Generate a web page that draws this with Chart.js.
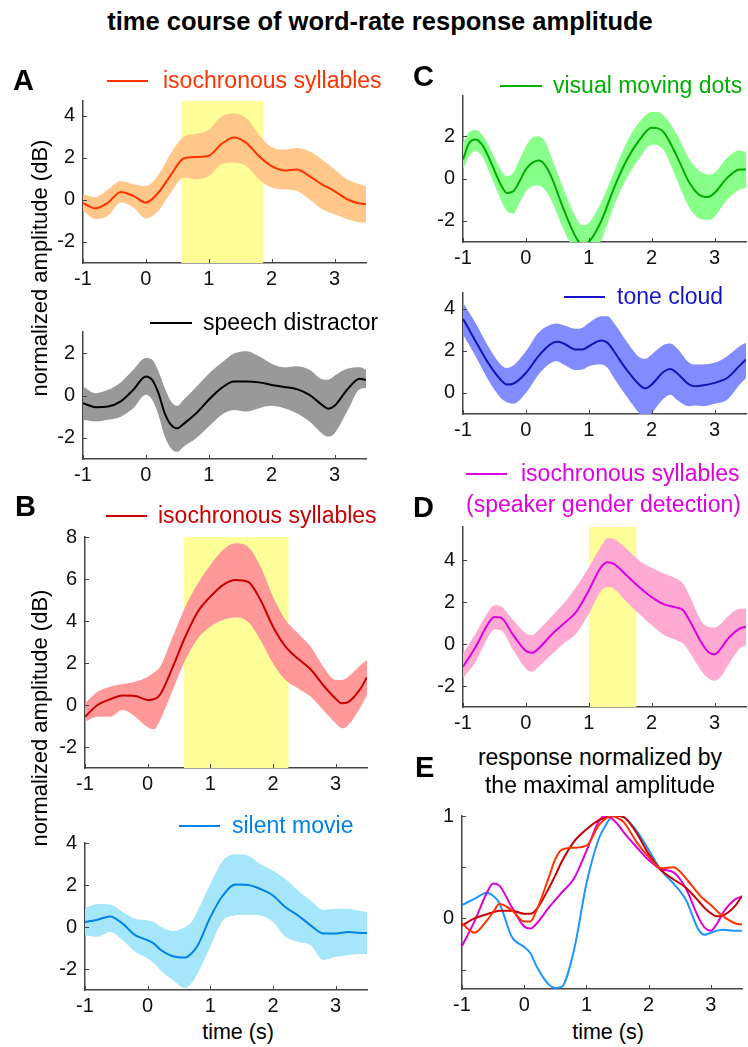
<!DOCTYPE html>
<html>
<head>
<meta charset="utf-8">
<script src="https://cdn.jsdelivr.net/npm/chart.js@4.4.1/dist/chart.umd.min.js"></script>
<style>
  html, body { margin: 0; padding: 0; background: #fff; overflow: hidden; }
  body { width: 748px; height: 1047px; position: relative; font-family: "Liberation Sans", Arial, sans-serif; }
  canvas { position: absolute; }
  .txt { position: absolute; line-height: 1; white-space: nowrap; }
  .leg-line { position: absolute; height: 2.5px; }
</style>
</head>
<body>
<script>
// tick values shared by all panels
const xTicks = [-1, 0, 1, 2, 3];

// A - isochronous syllables
const tA1 = [-1, -0.8, -0.6, -0.4, -0.2, 0, 0.2, 0.4, 0.6, 0.8, 1.0, 1.2, 1.4, 1.6, 1.8, 2.0, 2.2, 2.4, 2.6, 2.8, 3.0, 3.2, 3.4, 3.5];
const meanA1 = [-0.16, -0.4, -0.13, 0.38, 0.19, -0.13, 0.35, 1.2, 1.97, 2.04, 2.1, 2.65, 2.97, 2.7, 2.07, 1.6, 1.4, 1.45, 1.13, 0.74, 0.42, 0.03, -0.17, -0.2];
const upperA1 = [0.27, 0.14, 0.5, 0.9, 0.74, 0.66, 1.2, 2.23, 3.0, 3.14, 3.33, 3.96, 4.1, 3.88, 3.1, 2.5, 2.39, 2.47, 2.31, 1.92, 1.45, 0.97, 0.74, 0.66];
const lowerA1 = [-0.52, -0.91, -0.75, -0.13, -0.36, -0.88, -0.52, 0.35, 1.05, 0.97, 1.13, 1.68, 1.76, 1.6, 0.97, 0.58, 0.5, 0.42, 0.03, -0.44, -0.68, -0.91, -1.07, -1.07];
const hlA1 = [0.56, 1.87];
const yTicksA1 = [-2, 0, 2, 4];

// A - speech distractor
const tA2 = [-1, -0.8, -0.6, -0.4, -0.2, 0, 0.1, 0.2, 0.3, 0.4, 0.5, 0.6, 0.8, 1.0, 1.2, 1.4, 1.6, 1.8, 2.0, 2.2, 2.4, 2.6, 2.8, 2.9, 3.0, 3.2, 3.4, 3.5];
const meanA2 = [-0.36, -0.55, -0.52, -0.28, 0.27, 0.9, 0.74, 0.11, -0.84, -1.39, -1.55, -1.34, -0.84, -0.2, 0.35, 0.66, 0.66, 0.62, 0.5, 0.4, 0.3, 0.03, -0.44, -0.63, -0.49, 0.27, 0.79, 0.74];
const upperA2 = [0.43, 0.11, 0.27, 0.62, 1.22, 1.77, 1.69, 1.14, 0.35, -0.28, -0.49, -0.2, 0.4, 1.03, 1.53, 1.98, 2.09, 1.85, 1.5, 1.33, 1.38, 1.22, 0.77, 0.74, 0.93, 1.26, 1.33, 1.22];
const lowerA2 = [-1.15, -1.23, -1.15, -1.0, -0.6, 0.03, -0.2, -0.92, -1.94, -2.5, -2.66, -2.42, -2.02, -1.47, -0.92, -0.68, -0.76, -0.6, -0.49, -0.6, -0.84, -1.23, -1.79, -1.94, -1.79, -0.76, 0.3, 0.35];
const yTicksA2 = [-2, 0, 2];

// B - isochronous syllables
const tB1 = [-1, -0.8, -0.6, -0.4, -0.2, 0, 0.1, 0.2, 0.4, 0.6, 0.8, 1.0, 1.2, 1.4, 1.6, 1.8, 2.0, 2.2, 2.4, 2.6, 2.8, 3.0, 3.1, 3.2, 3.4, 3.5];
const meanB1 = [-0.56, 0, 0.27, 0.45, 0.43, 0.24, 0.27, 0.5, 1.8, 3.25, 4.44, 5.16, 5.71, 5.95, 5.87, 5.0, 3.73, 2.78, 2.2, 1.7, 0.95, 0.3, 0.08, 0.14, 0.79, 1.32];
const upperB1 = [0.08, 0.63, 0.87, 1.0, 1.11, 1.35, 1.55, 1.83, 3.25, 4.68, 5.79, 6.67, 7.38, 7.7, 7.54, 6.59, 5.16, 4.05, 3.41, 2.78, 1.83, 1.19, 1.19, 1.35, 1.9, 2.14];
const lowerB1 = [-0.79, -0.56, -0.56, -0.24, -0.56, -1.06, -1.16, -0.71, 0.71, 2.14, 3.17, 3.73, 4.05, 4.17, 3.97, 3.1, 1.98, 1.19, 0.79, 0.4, -0.24, -0.87, -1.11, -0.95, -0.08, 0.48];
const hlB1 = [0.58, 2.25];
const yTicksB1 = [-2, 0, 2, 4, 6, 8];

// B - silent movie
const tB2 = [-1, -0.8, -0.6, -0.4, -0.2, 0, 0.1, 0.2, 0.4, 0.6, 0.7, 0.8, 1.0, 1.2, 1.4, 1.6, 1.8, 2.0, 2.2, 2.4, 2.6, 2.8, 3.0, 3.2, 3.4, 3.5];
const meanB2 = [0.24, 0.35, 0.5, 0.16, -0.39, -0.63, -0.79, -1.07, -1.39, -1.45, -1.26, -0.87, 0.47, 1.5, 2.02, 2.0, 1.81, 1.5, 0.94, 0.55, 0.08, -0.31, -0.31, -0.24, -0.28, -0.28];
const upperB2 = [0.91, 1.1, 1.07, 0.71, 0.39, 0.31, 0.24, 0.03, -0.19, 0, 0.24, 0.79, 2.05, 3.15, 3.46, 3.39, 2.99, 2.68, 2.28, 1.73, 1.26, 0.82, 0.87, 0.87, 0.76, 0.71];
const lowerB2 = [-0.39, -0.47, -0.24, -0.63, -1.18, -1.5, -1.73, -2.05, -2.52, -2.91, -2.68, -2.2, -0.94, 0.31, 0.55, 0.58, 0.55, 0.24, -0.47, -0.71, -0.87, -1.57, -1.42, -1.34, -1.29, -1.29];
const yTicksB2 = [-2, 0, 2, 4];

// C - visual moving dots
const tC1 = [-1, -0.9, -0.8, -0.7, -0.6, -0.4, -0.3, -0.2, -0.1, 0, 0.1, 0.2, 0.3, 0.4, 0.6, 0.8, 0.9, 1.0, 1.2, 1.4, 1.6, 1.8, 2.0, 2.1, 2.2, 2.4, 2.6, 2.8, 2.9, 3.0, 3.2, 3.4, 3.5];
const meanC1 = [0.9, 1.69, 1.85, 1.61, 1.06, -0.28, -0.68, -0.6, -0.13, 0.43, 0.74, 0.85, 0.66, 0.11, -1.45, -2.8, -3.15, -3.0, -2.0, -0.45, 0.85, 1.8, 2.4, 2.37, 2.16, 1.06, -0.2, -0.84, -0.87, -0.68, 0.03, 0.43, 0.43];
const upperC1 = [1.69, 2.2, 2.29, 2.09, 1.61, 0.43, 0.11, 0.27, 0.9, 1.53, 1.93, 2.0, 1.77, 1.06, -0.5, -1.85, -2.2, -2.1, -1.1, 0.3, 1.7, 2.65, 3.14, 3.14, 2.95, 2.09, 0.9, 0.27, 0.19, 0.27, 0.98, 1.34, 1.22];
const lowerC1 = [0.43, 1.06, 1.3, 1.06, 0.43, -1.0, -1.55, -1.66, -1.15, -0.6, -0.36, -0.33, -0.52, -1.0, -2.42, -3.6, -4.0, -3.9, -2.9, -1.31, 0.0, 0.95, 1.6, 1.56, 1.3, -0.05, -1.39, -1.94, -1.97, -1.79, -1.0, -0.52, -0.44];
const yTicksC1 = [-2, 0, 2];

// C - tone cloud
const tC2 = [-1, -0.8, -0.6, -0.4, -0.3, -0.2, 0, 0.2, 0.4, 0.5, 0.6, 0.8, 0.9, 1.0, 1.2, 1.3, 1.4, 1.6, 1.8, 1.9, 2.0, 2.2, 2.3, 2.4, 2.6, 2.7, 2.8, 3.0, 3.2, 3.4, 3.5];
const meanC2 = [3.52, 2.46, 1.43, 0.63, 0.4, 0.44, 0.95, 1.75, 2.33, 2.43, 2.35, 2.06, 2.06, 2.22, 2.49, 2.38, 1.98, 1.11, 0.4, 0.22, 0.4, 1.03, 1.14, 0.95, 0.4, 0.32, 0.35, 0.48, 0.71, 1.3, 1.59];
const upperC2 = [4.29, 3.33, 2.22, 1.35, 1.19, 1.3, 1.98, 2.86, 3.25, 3.3, 3.22, 3.05, 3.1, 3.33, 3.65, 3.65, 3.33, 2.46, 1.71, 1.62, 1.83, 2.3, 2.35, 2.14, 1.43, 1.35, 1.35, 1.43, 1.75, 2.22, 2.38];
const lowerC2 = [2.78, 1.75, 0.63, -0.24, -0.44, -0.51, 0, 0.87, 1.43, 1.51, 1.35, 1.08, 1.11, 1.27, 1.35, 1.19, 0.71, -0.16, -0.95, -1.19, -0.95, -0.24, -0.08, -0.32, -0.63, -0.6, -0.63, -0.51, -0.32, 0.4, 0.71];
const yTicksC2 = [0, 2, 4];

// D - isochronous syllables (speaker gender detection)
const tD = [-1, -0.8, -0.6, -0.5, -0.4, -0.2, 0, 0.1, 0.2, 0.4, 0.6, 0.8, 1.0, 1.2, 1.3, 1.4, 1.6, 1.8, 2.0, 2.2, 2.4, 2.5, 2.6, 2.8, 2.9, 3.0, 3.1, 3.2, 3.4, 3.5];
const meanD = [-1.08, -0.13, 0.98, 1.3, 1.27, 0.43, -0.32, -0.41, -0.21, 0.43, 0.98, 1.54, 2.57, 3.71, 3.92, 3.84, 3.29, 2.73, 2.25, 1.9, 1.75, 1.62, 1.14, 0.03, -0.37, -0.48, -0.21, 0.22, 0.75, 0.83];
const upperD = [-0.44, 0.51, 1.54, 1.86, 1.81, 1.14, 0.51, 0.43, 0.67, 1.3, 1.94, 2.73, 3.68, 4.71, 5.08, 5.03, 4.56, 4.0, 3.65, 3.37, 3.13, 2.89, 2.33, 1.06, 0.83, 0.79, 0.98, 1.3, 1.7, 1.7];
const lowerD = [-1.63, -0.84, 0.35, 0.7, 0.67, -0.29, -1.16, -1.32, -1.08, -0.52, 0.03, 0.51, 1.46, 2.57, 2.73, 2.65, 2.02, 1.46, 0.9, 0.43, 0.19, 0.03, -0.37, -1.32, -1.63, -1.75, -1.56, -1.08, -0.21, -0.05];
const hlD = [1.0, 1.76];
const yTicksD = [-2, 0, 2, 4];

// E - normalized responses
const tE = [-1, -0.8, -0.6, -0.5, -0.4, -0.2, 0, 0.1, 0.2, 0.4, 0.5, 0.6, 0.8, 1.0, 1.2, 1.3, 1.4, 1.5, 1.6, 1.8, 2.0, 2.2, 2.4, 2.6, 2.8, 2.9, 3.0, 3.1, 3.2, 3.4, 3.5];
const orangeE = [-0.05, -0.14, -0.02, 0.06, 0.14, 0.08, -0.03, -0.03, 0.08, 0.41, 0.58, 0.67, 0.69, 0.71, 0.91, 0.97, 1.0, 0.98, 0.94, 0.75, 0.6, 0.49, 0.5, 0.39, 0.24, 0.18, 0.13, 0.07, 0.02, -0.05, -0.06];
const darkRedE = [-0.07, 0.0, 0.04, 0.06, 0.075, 0.075, 0.045, 0.045, 0.09, 0.3, 0.42, 0.55, 0.75, 0.87, 0.96, 0.98, 1.0, 1.0, 0.99, 0.84, 0.63, 0.47, 0.38, 0.3, 0.17, 0.1, 0.05, 0.02, 0.03, 0.13, 0.22];
const magentaE = [-0.27, -0.03, 0.25, 0.34, 0.32, 0.11, -0.08, -0.1, -0.05, 0.11, 0.18, 0.25, 0.39, 0.66, 0.95, 1.0, 0.98, 0.92, 0.84, 0.7, 0.57, 0.48, 0.45, 0.29, 0.01, -0.09, -0.12, -0.05, 0.06, 0.19, 0.21];
const blueE = [0.13, 0.19, 0.25, 0.22, 0.15, -0.18, -0.28, -0.34, -0.47, -0.65, -0.68, -0.67, -0.31, 0.34, 0.78, 0.9, 0.99, 1.0, 0.99, 0.86, 0.67, 0.47, 0.34, 0.18, -0.11, -0.16, -0.14, -0.12, -0.11, -0.12, -0.12];
const yTicksE = [-0.5, 0, 0.5, 1];

const FONT = '"Liberation Sans", Arial, sans-serif';
const AXIS_COLOR = '#444';
const YELLOW = '#ffff99';
const PAD_T = 24, PAD_R = 2, AXIS_W = 50, AXIS_H = 30;

const panels = [
    { area: { l: 83, r: 366, t: 101, b: 263 }, yMin: -3, yMax: 4.7, yTicks: yTicksA1, highlight: hlA1,
      bands: [{ t: tA1, mean: meanA1, upper: upperA1, lower: lowerA1, line: '#ff3300', fill: '#ffc88a' }] },
    { area: { l: 83, r: 366, t: 332, b: 459 }, yMin: -3, yMax: 3, yTicks: yTicksA2,
      bands: [{ t: tA2, mean: meanA2, upper: upperA2, lower: lowerA2, line: '#000000', fill: '#999999' }] },
    { area: { l: 85, r: 367, t: 537, b: 768 }, yMin: -3, yMax: 8, yTicks: yTicksB1, highlight: hlB1,
      bands: [{ t: tB1, mean: meanB1, upper: upperB1, lower: lowerB1, line: '#c80000', fill: '#ff9999' }] },
    { area: { l: 85, r: 367, t: 843, b: 990 }, yMin: -3, yMax: 4, yTicks: yTicksB2,
      bands: [{ t: tB2, mean: meanB2, upper: upperB2, lower: lowerB2, line: '#0082e6', fill: '#a6e6fa' }] },
    { area: { l: 463, r: 746, t: 96, b: 242 }, yMin: -3, yMax: 3.9, yTicks: yTicksC1,
      bands: [{ t: tC1, mean: meanC1, upper: upperC1, lower: lowerC1, line: '#00aa00', fill: '#88ff88' }] },
    { area: { l: 463, r: 746, t: 293, b: 414 }, yMin: -1, yMax: 4.75, yTicks: yTicksC2,
      bands: [{ t: tC2, mean: meanC2, upper: upperC2, lower: lowerC2, line: '#1414b4', fill: '#828cff' }] },
    { area: { l: 463, r: 746, t: 527, b: 707 }, yMin: -3, yMax: 5.6, yTicks: yTicksD, highlight: hlD,
      bands: [{ t: tD, mean: meanD, upper: upperD, lower: lowerD, line: '#dc00dc', fill: '#ffaad2' }] },
    { area: { l: 462, r: 742, t: 816, b: 989 }, yMin: -0.69, yMax: 1, yTicks: yTicksE,
      yLabel: v => (v === 0 || v === 1) ? String(v) : '',
      lines: [
          { t: tE, y: orangeE, color: '#ff3300' },
          { t: tE, y: darkRedE, color: '#c80000' },
          { t: tE, y: magentaE, color: '#dc00dc' },
          { t: tE, y: blueE, color: '#1e96ff' }
      ] }
];

const texts = [
    { s: 'time course of word-rate response amplitude', x: 380, base: 31, size: 25.5, bold: true, center: true },
    { s: 'A', x: 13, base: 91, size: 29, bold: true },
    { s: 'B', x: 15, base: 517, size: 29, bold: true },
    { s: 'C', x: 413, base: 87, size: 29, bold: true },
    { s: 'D', x: 413, base: 518, size: 29, bold: true },
    { s: 'E', x: 415, base: 778, size: 29, bold: true },
    { s: 'response normalized by', x: 600, base: 765, size: 23, center: true },
    { s: 'the maximal amplitude', x: 600, base: 793, size: 23, center: true },
    { s: 'time (s)', x: 238, base: 1040, size: 21.5, center: true },
    { s: 'time (s)', x: 608, base: 1040, size: 21.5, center: true }
];

const legends = [
    { s: 'isochronous syllables', color: '#ff3300', x1: 107, x2: 148, y: 81, tx: 163 },
    { s: 'speech distractor', color: '#000000', x1: 150, x2: 192, y: 323, tx: 203 },
    { s: 'isochronous syllables', color: '#c80000', x1: 106, x2: 147, y: 516, tx: 158 },
    { s: 'silent movie', color: '#0082e6', x1: 179, x2: 220, y: 826, tx: 232 },
    { s: 'visual moving dots', color: '#00b000', x1: 500, x2: 542, y: 86, tx: 553 },
    { s: 'tone cloud', color: '#1414c8', x1: 564, x2: 605, y: 297, tx: 617 },
    { s: 'isochronous syllables', color: '#e000e0', x1: 466, x2: 507, y: 474, tx: 521 }
];

const yTitles = [
    { s: 'normalized amplitude (dB)', x: 40, y: 268 },
    { s: 'normalized amplitude (dB)', x: 40, y: 718 }
];

// matlab style ticks pointing into the plot
const inwardTicks = {
    id: 'inwardTicks',
    afterDraw(chart) {
        const { ctx, chartArea, scales } = chart;
        ctx.save();
        ctx.strokeStyle = AXIS_COLOR;
        ctx.lineWidth = 1;
        ctx.beginPath();
        scales.x.ticks.forEach(t => {
            const px = Math.round(scales.x.getPixelForValue(t.value)) + 0.5;
            ctx.moveTo(px, chartArea.bottom);
            ctx.lineTo(px, chartArea.bottom - 4);
        });
        scales.y.ticks.forEach(t => {
            const py = Math.round(scales.y.getPixelForValue(t.value)) + 0.5;
            ctx.moveTo(chartArea.left, py);
            ctx.lineTo(chartArea.left + 4, py);
        });
        ctx.stroke();
        ctx.restore();
    }
};

function pts(t, v) {
    return t.map((x, i) => ({ x: x, y: v[i] }));
}

function montarDatasets(p) {
    const ds = [];
    const liso = { pointRadius: 0, cubicInterpolationMode: 'monotone', tension: 0.4 };
    if (p.highlight) {
        ds.push({ data: [{ x: p.highlight[0], y: p.yMax }, { x: p.highlight[1], y: p.yMax }],
            fill: 'start', backgroundColor: YELLOW, borderColor: 'transparent', borderWidth: 0, pointRadius: 0, order: 3 });
    }
    (p.bands || []).forEach(b => {
        ds.push(Object.assign({ data: pts(b.t, b.upper), fill: '+1', backgroundColor: b.fill, borderColor: 'transparent', borderWidth: 0, order: 2 }, liso));
        ds.push(Object.assign({ data: pts(b.t, b.lower), fill: false, borderColor: 'transparent', borderWidth: 0, order: 2 }, liso));
        ds.push(Object.assign({ data: pts(b.t, b.mean), fill: false, borderColor: b.line, borderWidth: 2, order: 1 }, liso));
    });
    (p.lines || []).forEach(l => {
        ds.push(Object.assign({ data: pts(l.t, l.y), fill: false, borderColor: l.color, borderWidth: 2, order: 1 }, liso));
    });
    return ds;
}

function criarPainel(p) {
    const canvas = document.createElement('canvas');
    const left = p.area.l - AXIS_W;
    const top = p.area.t - PAD_T;
    const w = p.area.r - p.area.l + AXIS_W + PAD_R;
    const h = p.area.b - p.area.t + PAD_T + AXIS_H;
    canvas.width = w;
    canvas.height = h;
    canvas.style.left = left + 'px';
    canvas.style.top = top + 'px';
    canvas.style.width = w + 'px';
    canvas.style.height = h + 'px';
    document.body.appendChild(canvas);

    const tickFont = { family: FONT, size: 20 };
    new Chart(canvas.getContext('2d'), {
        type: 'line',
        data: { datasets: montarDatasets(p) },
        options: {
            responsive: false,
            animation: false,
            layout: { padding: { top: PAD_T, right: PAD_R, left: 0, bottom: 0 } },
            plugins: { legend: { display: false }, tooltip: { enabled: false } },
            scales: {
                x: {
                    type: 'linear', min: -1, max: 3.5,
                    afterBuildTicks: s => { s.ticks = xTicks.map(v => ({ value: v })); },
                    afterFit: s => { s.height = AXIS_H; },
                    grid: { display: false, drawTicks: false },
                    border: { display: true, color: AXIS_COLOR, width: 1.5 },
                    ticks: { color: '#111', font: tickFont, padding: 4, maxRotation: 0, autoSkip: false, callback: v => String(v) }
                },
                y: {
                    type: 'linear', min: p.yMin, max: p.yMax,
                    afterBuildTicks: s => { s.ticks = p.yTicks.map(v => ({ value: v })); },
                    afterFit: s => { s.width = AXIS_W; },
                    grid: { display: false, drawTicks: false },
                    border: { display: true, color: AXIS_COLOR, width: 1.5 },
                    ticks: { color: '#111', font: tickFont, padding: 8, autoSkip: false, callback: p.yLabel || (v => String(v)) }
                }
            }
        },
        plugins: [inwardTicks]
    });
}

function addText(t) {
    const div = document.createElement('div');
    div.className = 'txt';
    div.textContent = t.s;
    div.style.fontSize = t.size + 'px';
    div.style.top = (t.base - 0.8465 * t.size) + 'px';
    div.style.left = t.x + 'px';
    div.style.color = t.color || '#000';
    if (t.bold) div.style.fontWeight = 'bold';
    if (t.center) div.style.transform = 'translateX(-50%)';
    document.body.appendChild(div);
}

function addLegend(l) {
    const line = document.createElement('div');
    line.className = 'leg-line';
    line.style.left = l.x1 + 'px';
    line.style.width = (l.x2 - l.x1) + 'px';
    line.style.top = (l.y - 1.25) + 'px';
    line.style.background = l.color;
    document.body.appendChild(line);
    addText({ s: l.s, x: l.tx, base: l.y + 7, size: 23, color: l.color });
}

function addYTitle(t) {
    const div = document.createElement('div');
    div.className = 'txt';
    div.textContent = t.s;
    div.style.fontSize = '22px';
    div.style.left = t.x + 'px';
    div.style.top = t.y + 'px';
    div.style.transform = 'translate(-50%, -50%) rotate(-90deg)';
    document.body.appendChild(div);
}

panels.forEach(criarPainel);
texts.forEach(addText);
legends.forEach(addLegend);
addText({ s: '(speaker gender detection)', x: 466, base: 512, size: 23, color: '#e000e0' });
yTitles.forEach(addYTitle);
</script>
</body>
</html>
